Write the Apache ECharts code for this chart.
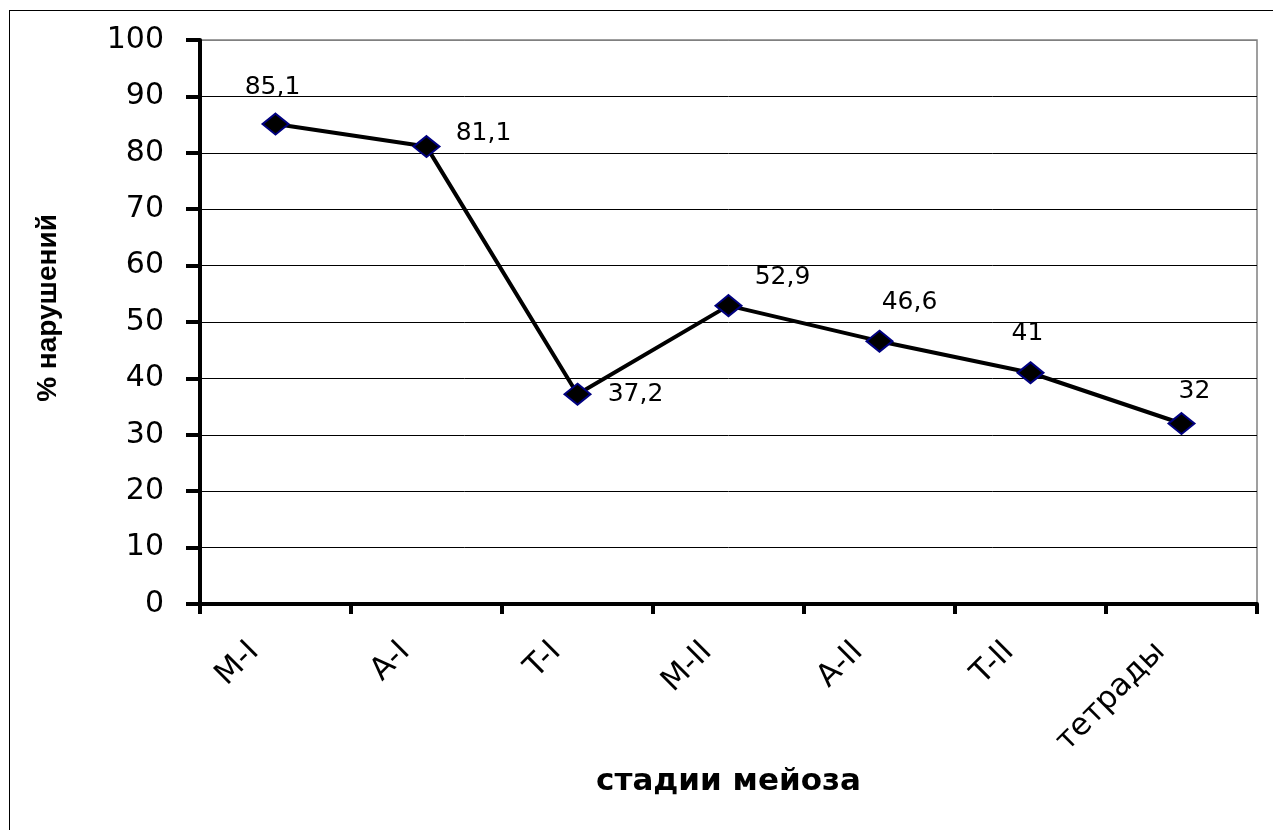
<!DOCTYPE html>
<html>
<head>
<meta charset="utf-8">
<script src="https://cdn.jsdelivr.net/npm/echarts@6/dist/echarts.min.js"></script>
<style>
html,body{margin:0;padding:0;background:#fff;overflow:hidden;}
#frame{position:absolute;left:9px;top:10px;width:1300px;height:860px;border:1.5px solid #000;box-sizing:border-box;}
#chart{position:absolute;left:0;top:0;width:1273px;height:830px;}
</style>
</head>
<body>
<div id="frame"></div>
<div id="chart"></div>
<script>
// стадии мейоза
var stages = ['M-I', 'A-I', 'T-I', 'M-II', 'A-II', 'T-II', 'тетрады'];
var values = [85.1, 81.1, 37.2, 52.9, 46.6, 41, 32];
// смещения подписей (dx, dy)
var labelOffsets = [[-3, -37], [57, -13], [58, 0], [54, -28], [30, -39], [-3, -39], [13, -32]];

var myChart = echarts.init(document.getElementById('chart'));

var points = [];
for (var i = 0; i < values.length; i++) {
	points.push({
		value: values[i],
		label: {offset: labelOffsets[i]}
	});
}

// линия на 100 серая (как рамка области)
var gridColors = ['#000', '#000', '#000', '#000', '#000', '#000', '#000', '#000', '#000', '#000', '#808080'];

var option = {
	animation: false,
	grid: {left: 200, right: 16, top: 40, bottom: 226, containLabel: false,
		show: true, borderColor: '#808080', borderWidth: 1.5},
	xAxis: {
		type: 'category',
		data: stages,
		boundaryGap: true,
		name: 'стадии мейоза',
		nameLocation: 'middle',
		nameGap: 162,
		nameTextStyle: {fontFamily: 'DejaVu Sans', fontSize: 31, fontWeight: 'bold', color: '#000'},
		axisLine: {lineStyle: {color: '#000', width: 4}},
		axisTick: {show: true, length: 10, lineStyle: {color: '#000', width: 4}},
		axisLabel: {rotate: 45, margin: 22, padding: [0, 30, 0, 0],
			fontFamily: 'DejaVu Sans', fontSize: 31, color: '#000'}
	},
	yAxis: {
		type: 'value',
		min: 0, max: 100, interval: 10,
		name: '% нарушений',
		nameLocation: 'middle',
		nameGap: 138,
		nameRotate: 90,
		nameTextStyle: {fontFamily: 'Liberation Sans', fontSize: 28, fontWeight: 'bold', color: '#000',
			padding: [0, 0, 0, 28]},
		axisLine: {show: true, lineStyle: {color: '#000', width: 4}},
		axisTick: {show: true, length: 14, lineStyle: {color: '#000', width: 4}},
		axisLabel: {margin: 36, fontFamily: 'DejaVu Sans', fontSize: 30, color: '#000'},
		splitLine: {lineStyle: {color: gridColors, width: 1}}
	},
	series: [{
		type: 'line',
		data: points,
		symbol: 'diamond',
		symbolSize: [26, 21],
		itemStyle: {color: '#000', borderColor: '#000080', borderWidth: 2},
		lineStyle: {color: '#000', width: 4},
		label: {
			show: true,
			position: 'inside',
			fontFamily: 'DejaVu Sans',
			fontSize: 25,
			color: '#000',
			formatter: function (p) { return String(p.value).replace('.', ','); }
		}
	}]
};

myChart.setOption(option);
</script>
</body>
</html>
